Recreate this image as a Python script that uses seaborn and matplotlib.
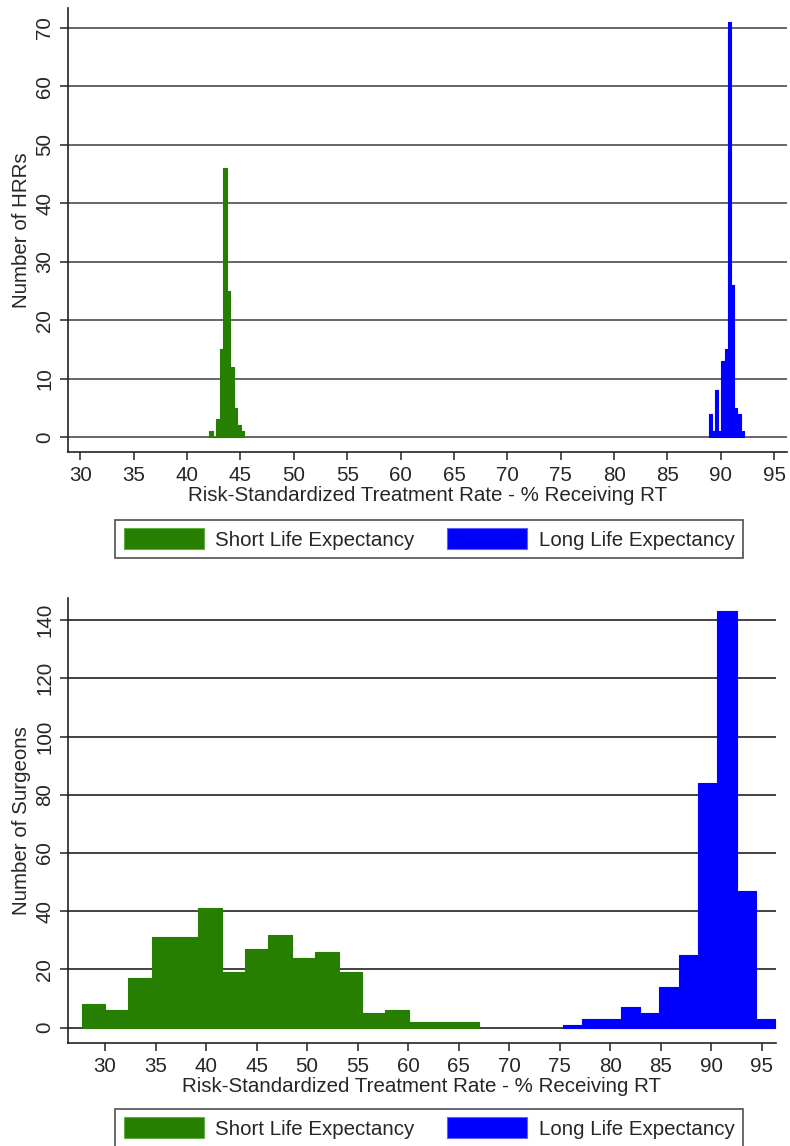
import matplotlib

matplotlib.use("Agg")
import matplotlib.pyplot as plt
import pandas as pd
import seaborn as sns
from matplotlib.patches import Patch

# Top panel: hospital referral regions (HRRs)
hrr_short_edges = [42.05, 42.38, 42.71, 43.04, 43.37, 43.70, 44.03, 44.36, 44.69, 45.02, 45.35]
hrr_short_counts = [1, 0, 3, 15, 46, 25, 12, 5, 2, 1]
hrr_long_edges = [88.85, 89.15, 89.45, 89.75, 90.05, 90.35, 90.65, 90.95, 91.25, 91.55, 91.85, 92.15]
hrr_long_counts = [4, 1, 8, 1, 13, 15, 71, 26, 5, 4, 1]

# Bottom panel: surgeons
surg_short_edges = [27.70, 30.01, 32.32, 34.63, 36.94, 39.25, 41.56, 43.87, 46.18,
                    48.49, 50.80, 53.11, 55.42, 57.73, 60.04, 62.35, 64.66, 66.97]
surg_short_counts = [8, 6, 17, 31, 31, 41, 19, 27, 32, 24, 26, 19, 5, 6, 2, 2, 2]
surg_long_edges = [75.30, 77.21, 79.13, 81.04, 82.96, 84.87, 86.78, 88.70, 90.61, 92.53, 94.44, 96.35]
surg_long_counts = [1, 3, 3, 7, 5, 14, 25, 84, 143, 47, 3]

x_ticks = [30, 35, 40, 45, 50, 55, 60, 65, 70, 75, 80, 85, 90, 95]
hrr_y_ticks = [0, 10, 20, 30, 40, 50, 60, 70]
surg_y_ticks = [0, 20, 40, 60, 80, 100, 120, 140]

x_title = "Risk-Standardized Treatment Rate - % Receiving RT"
legend_labels = ["Short Life Expectancy", "Long Life Expectancy"]

GREEN = "#267f00"
BLUE = "#0000ff"
FS = 14.8

sns.set_style("white")
plt.rcParams["font.family"] = ["Liberation Sans", "DejaVu Sans"]

W, H = 790, 1146
fig = plt.figure(figsize=(W / 100, H / 100), dpi=100)


def px_axes(left, top, right, bottom):
    return fig.add_axes([left / W, 1 - bottom / H, (right - left) / W, (bottom - top) / H])


def draw_hist(ax, edges, counts, color):
    centers = [(a + b) / 2 for a, b in zip(edges[:-1], edges[1:])]
    df = pd.DataFrame({"rate": centers, "n": counts})
    sns.histplot(data=df, x="rate", weights="n", bins=list(edges), element="step",
                 fill=True, color=color, alpha=1, edgecolor=color, linewidth=0.8, ax=ax)


def style_axes(ax, yticks, ylabel, xlim, ylim, grid_color):
    ax.set_xlim(*xlim)
    ax.set_ylim(*ylim)
    ax.set_xticks(x_ticks)
    ax.set_yticks(yticks)
    ax.set_axisbelow(True)
    ax.yaxis.grid(True, color=grid_color, linewidth=1.3)
    ax.xaxis.grid(False)
    for side in ["top", "right"]:
        ax.spines[side].set_visible(False)
    for side in ["left", "bottom"]:
        ax.spines[side].set_color("#222222")
        ax.spines[side].set_linewidth(1.2)
    ax.tick_params(axis="both", direction="out", length=6, width=1.1, color="#222222",
                   labelsize=FS, pad=4, left=True, bottom=True)
    for lab in ax.get_yticklabels():
        lab.set_rotation(90)
        lab.set_va("center")
    ax.set_xlabel(x_title, fontsize=FS, labelpad=1)
    ax.set_ylabel(ylabel, fontsize=FS, labelpad=3)


def add_legend(y_center):
    handles = [Patch(facecolor=GREEN, edgecolor="#5fae3f", linewidth=0.8),
               Patch(facecolor=BLUE, edgecolor="#6060ff", linewidth=0.8)]
    leg = fig.legend(handles, legend_labels, loc="center", ncol=2,
                     bbox_to_anchor=(429 / W, 1 - y_center / H), fontsize=FS,
                     frameon=True, fancybox=False, edgecolor="#222222",
                     handlelength=3.9, handleheight=1.15, handletextpad=0.55,
                     columnspacing=1.6, borderpad=0.4)
    leg.get_frame().set_linewidth(1.2)


ax1 = px_axes(68, 8, 787, 452)
draw_hist(ax1, hrr_short_edges, hrr_short_counts, GREEN)
draw_hist(ax1, hrr_long_edges, hrr_long_counts, BLUE)
style_axes(ax1, hrr_y_ticks, "Number of HRRs", (28.84, 96.2), (-2.57, 73.4), "#5a5a5a")
add_legend(539)

ax2 = px_axes(68, 598, 776, 1043)
draw_hist(ax2, surg_short_edges, surg_short_counts, GREEN)
draw_hist(ax2, surg_long_edges, surg_long_counts, BLUE)
style_axes(ax2, surg_y_ticks, "Number of Surgeons", (26.34, 96.4), (-5.25, 147.6), "#333333")
add_legend(1128)

fig.savefig("out.png", dpi=100, facecolor="white")
